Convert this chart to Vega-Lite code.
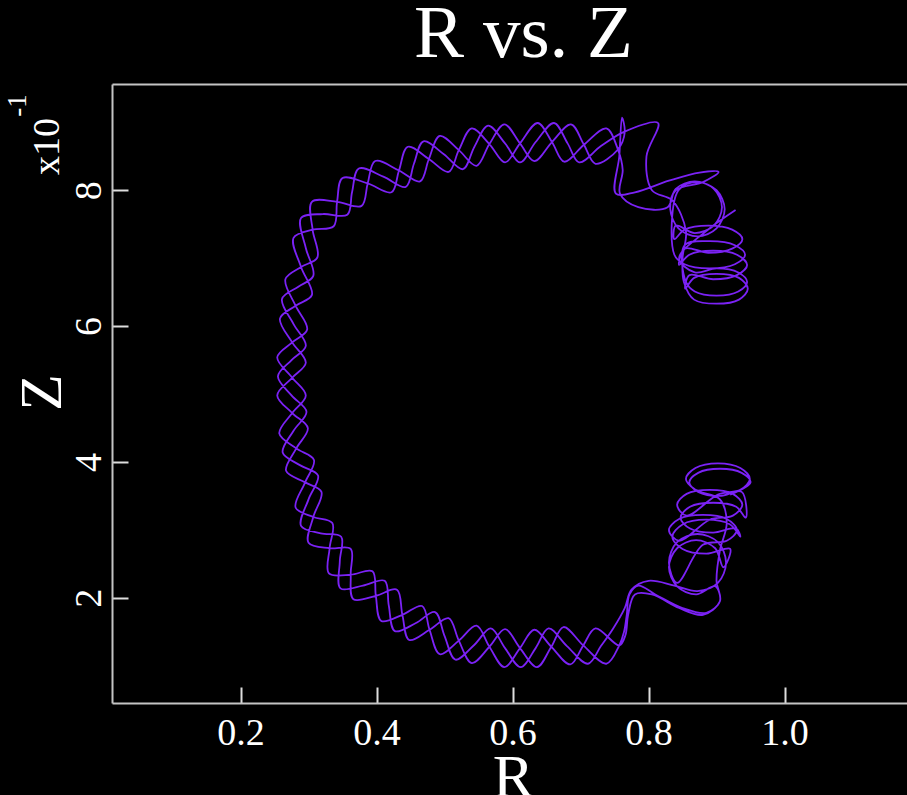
{
  "$schema": "https://vega.github.io/schema/vega-lite/v6.json",
  "width": 795,
  "height": 619,
  "autosize": {"type": "none"},
  "padding": {"left": 112, "top": 84, "right": 0, "bottom": 92},
  "background": "black",
  "config": {"view": {"stroke": null}},
  "resolve": {"axis": {"x": "independent", "y": "independent"}},
  "layer": [
    {
      "data": {"values": [
{"i":1,"r":0.920,"z":0.352},{"i":2,"r":0.950,"z":0.370},{"i":3,"r":0.937,"z":0.384},{"i":4,"r":0.905,"z":0.390},{"i":5,"r":0.873,"z":0.384},{"i":6,"r":0.860,"z":0.370},{"i":7,"r":0.873,"z":0.356},{"i":8,"r":0.905,"z":0.350},{"i":9,"r":0.937,"z":0.356},{"i":10,"r":0.943,"z":0.318},
{"i":11,"r":0.929,"z":0.334},{"i":12,"r":0.895,"z":0.340},{"i":13,"r":0.861,"z":0.334},{"i":14,"r":0.847,"z":0.318},{"i":15,"r":0.861,"z":0.302},{"i":16,"r":0.895,"z":0.296},{"i":17,"r":0.929,"z":0.302},{"i":18,"r":0.935,"z":0.290},{"i":19,"r":0.920,"z":0.308},{"i":20,"r":0.885,"z":0.315},
{"i":21,"r":0.850,"z":0.308},{"i":22,"r":0.835,"z":0.290},{"i":23,"r":0.850,"z":0.272},{"i":24,"r":0.885,"z":0.265},{"i":25,"r":0.920,"z":0.272},{"i":26,"r":0.910,"z":0.245},{"i":27,"r":0.898,"z":0.273},{"i":28,"r":0.870,"z":0.285},{"i":29,"r":0.842,"z":0.273},{"i":30,"r":0.830,"z":0.245},
{"i":31,"r":0.842,"z":0.217},{"i":32,"r":0.870,"z":0.205},{"i":33,"r":0.898,"z":0.217},{"i":34,"r":0.905,"z":0.195},{"i":35,"r":0.885,"z":0.178},{"i":36,"r":0.850,"z":0.185},{"i":37,"r":0.810,"z":0.205},{"i":38,"r":0.785,"z":0.218},{"i":39,"r":0.772,"z":0.205},{"i":40,"r":0.768,"z":0.175},
{"i":41,"r":0.764,"z":0.150},{"i":42,"r":0.757,"z":0.130},{"i":43,"r":0.738,"z":0.103},{"i":44,"r":0.704,"z":0.130},{"i":45,"r":0.675,"z":0.157},{"i":46,"r":0.657,"z":0.128},{"i":47,"r":0.636,"z":0.098},{"i":48,"r":0.611,"z":0.126},{"i":49,"r":0.589,"z":0.154},{"i":50,"r":0.566,"z":0.128},
{"i":51,"r":0.540,"z":0.104},{"i":52,"r":0.521,"z":0.137},{"i":53,"r":0.506,"z":0.170},{"i":54,"r":0.478,"z":0.153},{"i":55,"r":0.448,"z":0.138},{"i":56,"r":0.438,"z":0.175},{"i":57,"r":0.430,"z":0.212},{"i":58,"r":0.399,"z":0.203},{"i":59,"r":0.366,"z":0.198},{"i":60,"r":0.362,"z":0.234},
{"i":61,"r":0.362,"z":0.272},{"i":62,"r":0.331,"z":0.273},{"i":63,"r":0.300,"z":0.281},{"i":64,"r":0.307,"z":0.319},{"i":65,"r":0.319,"z":0.356},{"i":66,"r":0.295,"z":0.370},{"i":67,"r":0.267,"z":0.387},{"i":68,"r":0.282,"z":0.420},{"i":69,"r":0.299,"z":0.450},{"i":70,"r":0.276,"z":0.472},
{"i":71,"r":0.254,"z":0.498},{"i":72,"r":0.276,"z":0.524},{"i":73,"r":0.296,"z":0.546},{"i":74,"r":0.276,"z":0.576},{"i":75,"r":0.258,"z":0.611},{"i":76,"r":0.281,"z":0.630},{"i":77,"r":0.305,"z":0.646},{"i":78,"r":0.289,"z":0.687},{"i":79,"r":0.278,"z":0.730},{"i":80,"r":0.306,"z":0.742},
{"i":81,"r":0.337,"z":0.747},{"i":82,"r":0.342,"z":0.783},{"i":83,"r":0.350,"z":0.818},{"i":84,"r":0.387,"z":0.810},{"i":85,"r":0.422,"z":0.797},{"i":86,"r":0.433,"z":0.829},{"i":87,"r":0.446,"z":0.864},{"i":88,"r":0.477,"z":0.846},{"i":89,"r":0.506,"z":0.827},{"i":90,"r":0.521,"z":0.859},
{"i":91,"r":0.540,"z":0.891},{"i":92,"r":0.566,"z":0.868},{"i":93,"r":0.589,"z":0.841},{"i":94,"r":0.611,"z":0.869},{"i":95,"r":0.637,"z":0.899},{"i":96,"r":0.658,"z":0.871},{"i":97,"r":0.676,"z":0.842},{"i":98,"r":0.705,"z":0.867},{"i":99,"r":0.738,"z":0.891},{"i":100,"r":0.755,"z":0.860},
{"i":101,"r":0.762,"z":0.830},{"i":102,"r":0.758,"z":0.795},{"i":103,"r":0.785,"z":0.775},{"i":104,"r":0.828,"z":0.775},{"i":105,"r":0.840,"z":0.802},{"i":106,"r":0.868,"z":0.813},{"i":107,"r":0.896,"z":0.802},{"i":108,"r":0.908,"z":0.775},{"i":109,"r":0.896,"z":0.748},{"i":110,"r":0.868,"z":0.737},
{"i":111,"r":0.840,"z":0.748},{"i":112,"r":0.838,"z":0.728},{"i":113,"r":0.853,"z":0.742},{"i":114,"r":0.888,"z":0.748},{"i":115,"r":0.923,"z":0.742},{"i":116,"r":0.938,"z":0.728},{"i":117,"r":0.923,"z":0.714},{"i":118,"r":0.888,"z":0.708},{"i":119,"r":0.853,"z":0.714},{"i":120,"r":0.845,"z":0.690},
{"i":121,"r":0.860,"z":0.705},{"i":122,"r":0.895,"z":0.711},{"i":123,"r":0.930,"z":0.705},{"i":124,"r":0.945,"z":0.690},{"i":125,"r":0.930,"z":0.675},{"i":126,"r":0.895,"z":0.669},{"i":127,"r":0.860,"z":0.675},{"i":128,"r":0.854,"z":0.655},{"i":129,"r":0.867,"z":0.671},{"i":130,"r":0.900,"z":0.677},
{"i":131,"r":0.933,"z":0.671},{"i":132,"r":0.946,"z":0.655},{"i":133,"r":0.933,"z":0.639},{"i":134,"r":0.900,"z":0.633},{"i":135,"r":0.867,"z":0.639},{"i":136,"r":0.852,"z":0.665},{"i":137,"r":0.850,"z":0.700},{"i":138,"r":0.855,"z":0.740},{"i":139,"r":0.835,"z":0.785},{"i":140,"r":0.805,"z":0.800},
{"i":141,"r":0.797,"z":0.850},{"i":142,"r":0.814,"z":0.899},{"i":143,"r":0.764,"z":0.886},{"i":144,"r":0.730,"z":0.865},{"i":145,"r":0.698,"z":0.841},{"i":146,"r":0.681,"z":0.869},{"i":147,"r":0.661,"z":0.899},{"i":148,"r":0.634,"z":0.871},{"i":149,"r":0.611,"z":0.841},{"i":150,"r":0.589,"z":0.869},
{"i":151,"r":0.564,"z":0.895},{"i":152,"r":0.544,"z":0.864},{"i":153,"r":0.527,"z":0.831},{"i":154,"r":0.499,"z":0.853},{"i":155,"r":0.469,"z":0.872},{"i":156,"r":0.455,"z":0.839},{"i":157,"r":0.443,"z":0.805},{"i":158,"r":0.410,"z":0.820},{"i":159,"r":0.374,"z":0.832},{"i":160,"r":0.364,"z":0.797},
{"i":161,"r":0.357,"z":0.764},{"i":162,"r":0.321,"z":0.765},{"i":163,"r":0.289,"z":0.759},{"i":164,"r":0.296,"z":0.715},{"i":165,"r":0.307,"z":0.674},{"i":166,"r":0.285,"z":0.658},{"i":167,"r":0.261,"z":0.640},{"i":168,"r":0.278,"z":0.603},{"i":169,"r":0.296,"z":0.571},{"i":170,"r":0.275,"z":0.550},
{"i":171,"r":0.255,"z":0.526},{"i":172,"r":0.275,"z":0.498},{"i":173,"r":0.297,"z":0.474},{"i":174,"r":0.278,"z":0.446},{"i":175,"r":0.262,"z":0.414},{"i":176,"r":0.288,"z":0.395},{"i":177,"r":0.314,"z":0.380},{"i":178,"r":0.300,"z":0.345},{"i":179,"r":0.289,"z":0.306},{"i":180,"r":0.318,"z":0.295},
{"i":181,"r":0.348,"z":0.290},{"i":182,"r":0.346,"z":0.254},{"i":183,"r":0.347,"z":0.214},{"i":184,"r":0.380,"z":0.218},{"i":185,"r":0.412,"z":0.225},{"i":186,"r":0.418,"z":0.189},{"i":187,"r":0.427,"z":0.151},{"i":188,"r":0.458,"z":0.163},{"i":189,"r":0.486,"z":0.179},{"i":190,"r":0.500,"z":0.144},
{"i":191,"r":0.516,"z":0.109},{"i":192,"r":0.544,"z":0.131},{"i":193,"r":0.568,"z":0.155},{"i":194,"r":0.589,"z":0.126},{"i":195,"r":0.612,"z":0.098},{"i":196,"r":0.634,"z":0.126},{"i":197,"r":0.653,"z":0.155},{"i":198,"r":0.680,"z":0.129},{"i":199,"r":0.711,"z":0.103},{"i":200,"r":0.730,"z":0.129},
{"i":201,"r":0.748,"z":0.155},{"i":202,"r":0.765,"z":0.185},{"i":203,"r":0.775,"z":0.212},{"i":204,"r":0.800,"z":0.225},{"i":205,"r":0.838,"z":0.218},{"i":206,"r":0.872,"z":0.210},{"i":207,"r":0.902,"z":0.222},{"i":208,"r":0.914,"z":0.252},{"i":209,"r":0.902,"z":0.282},{"i":210,"r":0.872,"z":0.294},
{"i":211,"r":0.842,"z":0.282},{"i":212,"r":0.830,"z":0.252},{"i":213,"r":0.842,"z":0.222},{"i":214,"r":0.880,"z":0.278},{"i":215,"r":0.915,"z":0.284},{"i":216,"r":0.930,"z":0.300},{"i":217,"r":0.915,"z":0.316},{"i":218,"r":0.880,"z":0.322},{"i":219,"r":0.845,"z":0.316},{"i":220,"r":0.830,"z":0.300},
{"i":221,"r":0.845,"z":0.284},{"i":222,"r":0.890,"z":0.315},{"i":223,"r":0.924,"z":0.321},{"i":224,"r":0.938,"z":0.337},{"i":225,"r":0.924,"z":0.353},{"i":226,"r":0.890,"z":0.359},{"i":227,"r":0.856,"z":0.353},{"i":228,"r":0.842,"z":0.337},{"i":229,"r":0.856,"z":0.321},{"i":230,"r":0.902,"z":0.352},
{"i":231,"r":0.935,"z":0.359},{"i":232,"r":0.949,"z":0.375},{"i":233,"r":0.935,"z":0.391},{"i":234,"r":0.902,"z":0.398},{"i":235,"r":0.869,"z":0.391},{"i":236,"r":0.855,"z":0.375},{"i":237,"r":0.869,"z":0.359},{"i":238,"r":0.905,"z":0.345},{"i":239,"r":0.915,"z":0.310},{"i":240,"r":0.905,"z":0.270},
{"i":241,"r":0.900,"z":0.225},{"i":242,"r":0.905,"z":0.195},{"i":243,"r":0.880,"z":0.175},{"i":244,"r":0.845,"z":0.185},{"i":245,"r":0.805,"z":0.205},{"i":246,"r":0.780,"z":0.205},{"i":247,"r":0.770,"z":0.175},{"i":248,"r":0.766,"z":0.145},{"i":249,"r":0.757,"z":0.130},{"i":250,"r":0.722,"z":0.155},
{"i":251,"r":0.704,"z":0.130},{"i":252,"r":0.685,"z":0.102},{"i":253,"r":0.657,"z":0.128},{"i":254,"r":0.632,"z":0.153},{"i":255,"r":0.611,"z":0.126},{"i":256,"r":0.588,"z":0.098},{"i":257,"r":0.566,"z":0.128},{"i":258,"r":0.547,"z":0.159},{"i":259,"r":0.521,"z":0.137},{"i":260,"r":0.493,"z":0.117},
{"i":261,"r":0.478,"z":0.153},{"i":262,"r":0.467,"z":0.188},{"i":263,"r":0.438,"z":0.175},{"i":264,"r":0.407,"z":0.166},{"i":265,"r":0.399,"z":0.203},{"i":266,"r":0.394,"z":0.239},{"i":267,"r":0.362,"z":0.234},{"i":268,"r":0.330,"z":0.236},{"i":269,"r":0.331,"z":0.273},{"i":270,"r":0.335,"z":0.310},
{"i":271,"r":0.307,"z":0.319},{"i":272,"r":0.281,"z":0.333},{"i":273,"r":0.295,"z":0.370},{"i":274,"r":0.308,"z":0.403},{"i":275,"r":0.282,"z":0.420},{"i":276,"r":0.257,"z":0.442},{"i":277,"r":0.276,"z":0.472},{"i":278,"r":0.296,"z":0.498},{"i":279,"r":0.276,"z":0.524},{"i":280,"r":0.254,"z":0.554},
{"i":281,"r":0.276,"z":0.576},{"i":282,"r":0.298,"z":0.595},{"i":283,"r":0.281,"z":0.630},{"i":284,"r":0.266,"z":0.669},{"i":285,"r":0.289,"z":0.687},{"i":286,"r":0.313,"z":0.701},{"i":287,"r":0.306,"z":0.742},{"i":288,"r":0.305,"z":0.783},{"i":289,"r":0.342,"z":0.783},{"i":290,"r":0.378,"z":0.777},
{"i":291,"r":0.387,"z":0.810},{"i":292,"r":0.398,"z":0.843},{"i":293,"r":0.433,"z":0.829},{"i":294,"r":0.464,"z":0.813},{"i":295,"r":0.477,"z":0.846},{"i":296,"r":0.493,"z":0.880},{"i":297,"r":0.521,"z":0.859},{"i":298,"r":0.547,"z":0.836},{"i":299,"r":0.566,"z":0.868},{"i":300,"r":0.588,"z":0.897},
{"i":301,"r":0.611,"z":0.869},{"i":302,"r":0.632,"z":0.843},{"i":303,"r":0.658,"z":0.871},{"i":304,"r":0.686,"z":0.897},{"i":305,"r":0.705,"z":0.867},{"i":306,"r":0.722,"z":0.839},{"i":307,"r":0.755,"z":0.860},{"i":308,"r":0.765,"z":0.885},{"i":309,"r":0.761,"z":0.907},{"i":310,"r":0.757,"z":0.850},
{"i":311,"r":0.752,"z":0.795},{"i":312,"r":0.780,"z":0.797},{"i":313,"r":0.830,"z":0.814},{"i":314,"r":0.875,"z":0.826},{"i":315,"r":0.903,"z":0.827},{"i":316,"r":0.880,"z":0.812},{"i":317,"r":0.840,"z":0.800},{"i":318,"r":0.832,"z":0.772},{"i":319,"r":0.844,"z":0.744},{"i":320,"r":0.872,"z":0.732},
{"i":321,"r":0.900,"z":0.744},{"i":322,"r":0.912,"z":0.772},{"i":323,"r":0.900,"z":0.800},{"i":324,"r":0.872,"z":0.812},{"i":325,"r":0.844,"z":0.800},{"i":326,"r":0.838,"z":0.705},{"i":327,"r":0.853,"z":0.691},{"i":328,"r":0.890,"z":0.685},{"i":329,"r":0.927,"z":0.691},{"i":330,"r":0.942,"z":0.705},
{"i":331,"r":0.927,"z":0.719},{"i":332,"r":0.890,"z":0.725},{"i":333,"r":0.853,"z":0.719},{"i":334,"r":0.855,"z":0.665},{"i":335,"r":0.868,"z":0.651},{"i":336,"r":0.900,"z":0.645},{"i":337,"r":0.932,"z":0.651},{"i":338,"r":0.945,"z":0.665},{"i":339,"r":0.932,"z":0.679},{"i":340,"r":0.900,"z":0.685},
{"i":341,"r":0.868,"z":0.679},{"i":342,"r":0.845,"z":0.700},{"i":343,"r":0.885,"z":0.740},{"i":344,"r":0.928,"z":0.771}
      ]},
      "mark": {"type": "line", "color": "#7b22f5", "strokeWidth": 1.8, "interpolate": "catmull-rom", "clip": true},
      "encoding": {
        "order": {"field": "i", "type": "quantitative"},
        "x": {"field": "r", "type": "quantitative",
          "scale": {"domain": [0.011, 1.1801], "nice": false, "zero": false},
          "axis": {"orient": "bottom", "values": [0.2, 0.4, 0.6, 0.8, 1.0], "format": ".1f", "grid": false,
            "domainColor": "#c4c4c4", "domainWidth": 2, "tickColor": "#dddddd", "tickWidth": 2, "tickSize": -16,
            "labelFont": "Liberation Serif", "labelFontSize": 38, "labelColor": "white", "labelPadding": 57, "labelBaseline": "alphabetic",
            "title": "R", "titleFont": "Liberation Serif", "titleFontSize": 62, "titleFontWeight": "normal", "titleColor": "white",
            "titleX": 401, "titleY": 93, "titleBaseline": "alphabetic", "titleAlign": "center"}},
        "y": {"field": "z", "type": "quantitative",
          "scale": {"domain": [0.0452, 0.9564], "nice": false, "zero": false},
          "axis": {"orient": "left", "values": [0.2, 0.4, 0.6, 0.8], "labelExpr": "format(datum.value*10, 'd')", "grid": false,
            "domainColor": "#c4c4c4", "domainWidth": 2, "tickColor": "#dddddd", "tickWidth": 2, "tickSize": -16,
            "labelFont": "Liberation Serif", "labelFontSize": 38, "labelColor": "white", "labelPadding": 28, "labelAngle": -90, "labelAlign": "center", "labelBaseline": "alphabetic",
            "title": "Z", "titleFont": "Liberation Serif", "titleFontSize": 60, "titleFontWeight": "normal", "titleColor": "white",
            "titleAngle": -90, "titleX": -52, "titleY": 308, "titleBaseline": "alphabetic", "titleAlign": "center"}}
      }
    },
    {
      "data": {"values": [{"r": 0.5, "z": 0.5}]},
      "mark": {"type": "point", "opacity": 0},
      "encoding": {
        "x": {"field": "r", "type": "quantitative",
          "axis": {"orient": "top", "domain": true, "domainColor": "#c4c4c4", "domainWidth": 2, "ticks": false, "labels": false, "grid": false,
            "title": "R vs. Z", "titleFont": "Liberation Serif", "titleFontSize": 75, "titleFontWeight": "normal", "titleColor": "white",
            "titleX": 411, "titleY": -28, "titleBaseline": "alphabetic", "titleAlign": "center"}},
        "y": {"field": "z", "type": "quantitative",
          "axis": {"orient": "left", "domain": false, "ticks": false, "labels": false, "grid": false,
            "title": "x10", "titleFont": "Liberation Serif", "titleFontSize": 38, "titleFontWeight": "normal", "titleColor": "white",
            "titleAngle": -90, "titleX": -54, "titleY": 62, "titleBaseline": "alphabetic", "titleAlign": "center"}}
      }
    },
    {
      "data": {"values": [{"r": 0.5, "z": 0.5}]},
      "mark": {"type": "point", "opacity": 0},
      "encoding": {
        "x": {"field": "r", "type": "quantitative", "axis": null},
        "y": {"field": "z", "type": "quantitative",
          "axis": {"orient": "left", "domain": false, "ticks": false, "labels": false, "grid": false,
            "title": "-1", "titleFont": "Liberation Serif", "titleFontSize": 27, "titleFontWeight": "normal", "titleColor": "white",
            "titleAngle": -90, "titleX": -87, "titleY": 21, "titleBaseline": "alphabetic", "titleAlign": "center"}}
      }
    }
  ]
}
